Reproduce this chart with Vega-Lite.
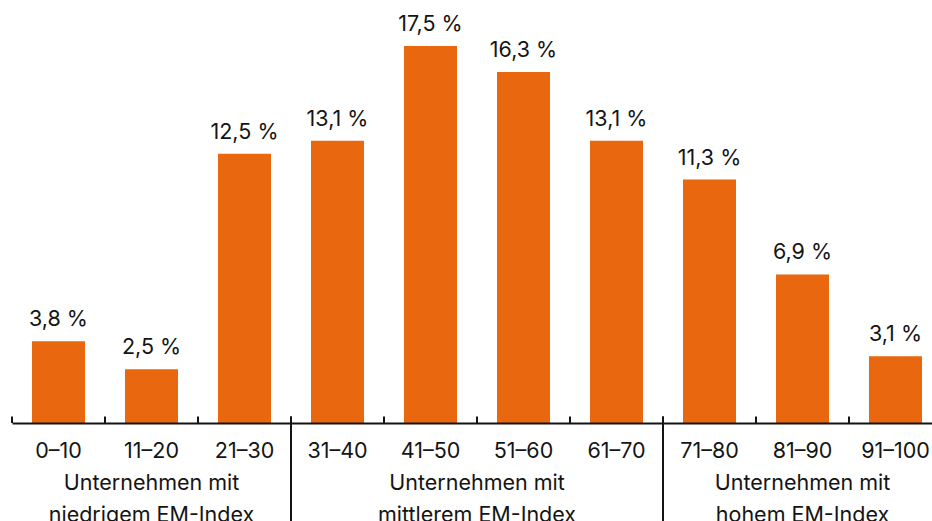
{
  "$schema": "https://vega.github.io/schema/vega-lite/v6.json",
  "width": 920,
  "height": 423,
  "autosize": {"type": "none"},
  "padding": {"left": 12, "top": 0, "right": 0, "bottom": 98},
  "background": "white",
  "config": {
    "view": {"stroke": null},
    "font": "Inter",
    "text": {"font": "Inter", "fontSize": 21.5, "color": "#141414"}
  },
  "datasets": {
    "shares": [
      {"range": "0–10", "share": 3.8},
      {"range": "11–20", "share": 2.5},
      {"range": "21–30", "share": 12.5},
      {"range": "31–40", "share": 13.1},
      {"range": "41–50", "share": 17.5},
      {"range": "51–60", "share": 16.3},
      {"range": "61–70", "share": 13.1},
      {"range": "71–80", "share": 11.3},
      {"range": "81–90", "share": 6.9},
      {"range": "91–100", "share": 3.1}
    ],
    "groups": [
      {"label": "Unternehmen mit\nniedrigem EM-Index", "first": "0–10", "mid": "11–20"},
      {"label": "Unternehmen mit\nmittlerem EM-Index", "first": "31–40", "mid": "51–60"},
      {"label": "Unternehmen mit\nhohem EM-Index", "first": "71–80", "mid": "81–90"}
    ]
  },
  "layer": [
    {
      "data": {"name": "shares"},
      "mark": {"type": "bar", "width": {"band": 0.57}, "color": "#E8670F"},
      "encoding": {
        "x": {
          "field": "range",
          "type": "nominal",
          "title": null,
          "scale": {
            "domain": ["0–10", "11–20", "21–30", "31–40", "41–50", "51–60", "61–70", "71–80", "81–90", "91–100"],
            "range": [0, 930],
            "paddingInner": 0,
            "paddingOuter": 0
          },
          "axis": {
            "title": null,
            "domain": true,
            "domainColor": "#141414",
            "domainWidth": 2,
            "ticks": false,
            "tickSize": 0,
            "labelPadding": 34,
            "labelBaseline": "alphabetic",
            "labelFont": "Inter",
            "labelFontSize": 21.5,
            "labelColor": "#141414",
            "labelAngle": 0,
            "labelOverlap": false,
            "labelFlush": false,
            "zindex": 1
          }
        },
        "y": {
          "field": "share",
          "type": "quantitative",
          "scale": {"domain": [0, 19.64], "nice": false},
          "axis": null
        }
      }
    },
    {
      "data": {"name": "shares"},
      "mark": {
        "type": "text",
        "baseline": "alphabetic",
        "align": "center",
        "dy": -15,
        "text": {"expr": "replace(format(datum.share, '.1f'), '.', ',') + ' %'"}
      },
      "encoding": {
        "x": {"field": "range", "type": "nominal", "title": null},
        "y": {"field": "share", "type": "quantitative", "axis": null}
      }
    },
    {
      "data": {"name": "shares"},
      "mark": {"type": "rule", "color": "#141414", "strokeWidth": 2},
      "encoding": {
        "x": {"field": "range", "type": "nominal", "bandPosition": 0, "title": null},
        "y": {"datum": 0},
        "y2": {"datum": 0.3}
      }
    },
    {
      "data": {"name": "groups"},
      "transform": [{"filter": "datum.first !== '0–10'"}],
      "mark": {"type": "rule", "color": "#141414", "strokeWidth": 2},
      "encoding": {
        "x": {"field": "first", "type": "nominal", "bandPosition": 0, "title": null},
        "y": {"datum": 0.3},
        "y2": {"datum": -4.7}
      }
    },
    {
      "data": {"name": "groups"},
      "transform": [{"filter": "datum.mid !== '51–60'"}],
      "mark": {"type": "text", "baseline": "alphabetic", "align": "center", "lineBreak": "\n", "lineHeight": 32, "dy": 67},
      "encoding": {
        "x": {"field": "mid", "type": "nominal", "title": null},
        "y": {"datum": 0},
        "text": {"field": "label"}
      }
    },
    {
      "data": {"name": "groups"},
      "transform": [{"filter": "datum.mid === '51–60'"}],
      "mark": {"type": "text", "baseline": "alphabetic", "align": "center", "lineBreak": "\n", "lineHeight": 32, "dy": 67},
      "encoding": {
        "x": {"field": "mid", "type": "nominal", "bandPosition": 0, "title": null},
        "y": {"datum": 0},
        "text": {"field": "label"}
      }
    }
  ]
}
